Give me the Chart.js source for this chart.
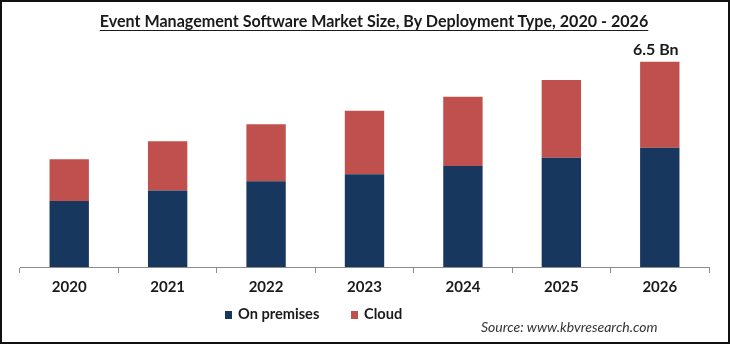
<!DOCTYPE html>
<html>
<head>
<meta charset="utf-8">
<script src="https://cdn.jsdelivr.net/npm/chart.js@4.4.0/dist/chart.umd.min.js"></script>
<style>
  html, body { margin: 0; padding: 0; background: #fff; }
  #frame {
    position: relative; width: 730px; height: 344px;
    box-sizing: border-box; border: 2px solid #111; overflow: hidden;
    font-family: Lato, "Noto Sans", sans-serif;
  }
  #chartBox { position: absolute; left: -2px; top: -2px; width: 730px; height: 344px; }
  #title {
    position: absolute; left: 0; width: 744px; top: 9px; text-align: center;
    font-weight: bold; font-size: 16.1px; color: #1a1a1a; text-decoration: underline;
    text-underline-offset: 3px;
  }
  .legend { position: absolute; top: 303px; font-weight: bold; font-size: 14.6px; color: #1a1a1a; }
  .legend span.sw { display: inline-block; width: 7px; height: 8px; margin-right: 6px; vertical-align: 0px; }
  #source {
    position: absolute; left: 479px; top: 316px; font-style: italic; font-size: 14px; color: #333;
  }
</style>
</head>
<body>
<div id="frame">
  <div id="chartBox"><canvas id="chart" width="730" height="344"></canvas></div>
  <div id="title">Event Management Software Market Size, By Deployment Type, 2020 - 2026</div>
  <div class="legend" style="left:223px"><span class="sw" style="background:#17375e"></span>On premises</div>
  <div class="legend" style="left:349px"><span class="sw" style="background:#c0504d"></span>Cloud</div>
  <div id="source">Source: www.kbvresearch.com</div>
</div>
<script>
const years = ['2020', '2021', '2022', '2023', '2024', '2025', '2026'];
const onPremises = [2.09, 2.42, 2.72, 2.94, 3.20, 3.46, 3.78];
const cloud = [1.32, 1.56, 1.80, 2.01, 2.19, 2.46, 2.72];
const totalLabel = '6.5 Bn';

// writes the market total above the last bar
const totalPlugin = {
  id: 'totalLabel',
  afterDatasetsDraw(chart) {
    const meta = chart.getDatasetMeta(1);
    const bar = meta.data[meta.data.length - 1];
    const ctx = chart.ctx;
    ctx.save();
    ctx.font = 'bold 16px Lato, "Noto Sans", sans-serif';
    ctx.fillStyle = '#1a1a1a';
    ctx.textAlign = 'center';
    ctx.textBaseline = 'middle';
    ctx.fillText(totalLabel, bar.x - 4, bar.y - 12);
    ctx.restore();
  }
};

new Chart(document.getElementById('chart'), {
  type: 'bar',
  data: {
    labels: years,
    datasets: [
      { label: 'On premises', data: onPremises, backgroundColor: '#17375e' },
      { label: 'Cloud', data: cloud, backgroundColor: '#c0504d' }
    ]
  },
  options: {
    responsive: false,
    animation: false,
    layout: { padding: { left: 20, right: 21, top: 46, bottom: 0 } },
    datasets: { bar: { categoryPercentage: 1, barPercentage: 0.4 } },
    plugins: { legend: { display: false }, tooltip: { enabled: false } },
    scales: {
      x: {
        stacked: true,
        afterFit(scale) { scale.height = 77; },
        grid: { drawOnChartArea: false, drawTicks: true, tickLength: 6, color: '#8c8c8c', offset: true },
        border: { color: '#8c8c8c', width: 1 },
        ticks: { color: '#1a1a1a', padding: 5, font: { family: 'Lato', size: 15, weight: 'bold' } }
      },
      y: {
        stacked: true, display: false, min: 0, max: 7
      }
    }
  },
  plugins: [totalPlugin]
});
</script>
</body>
</html>
